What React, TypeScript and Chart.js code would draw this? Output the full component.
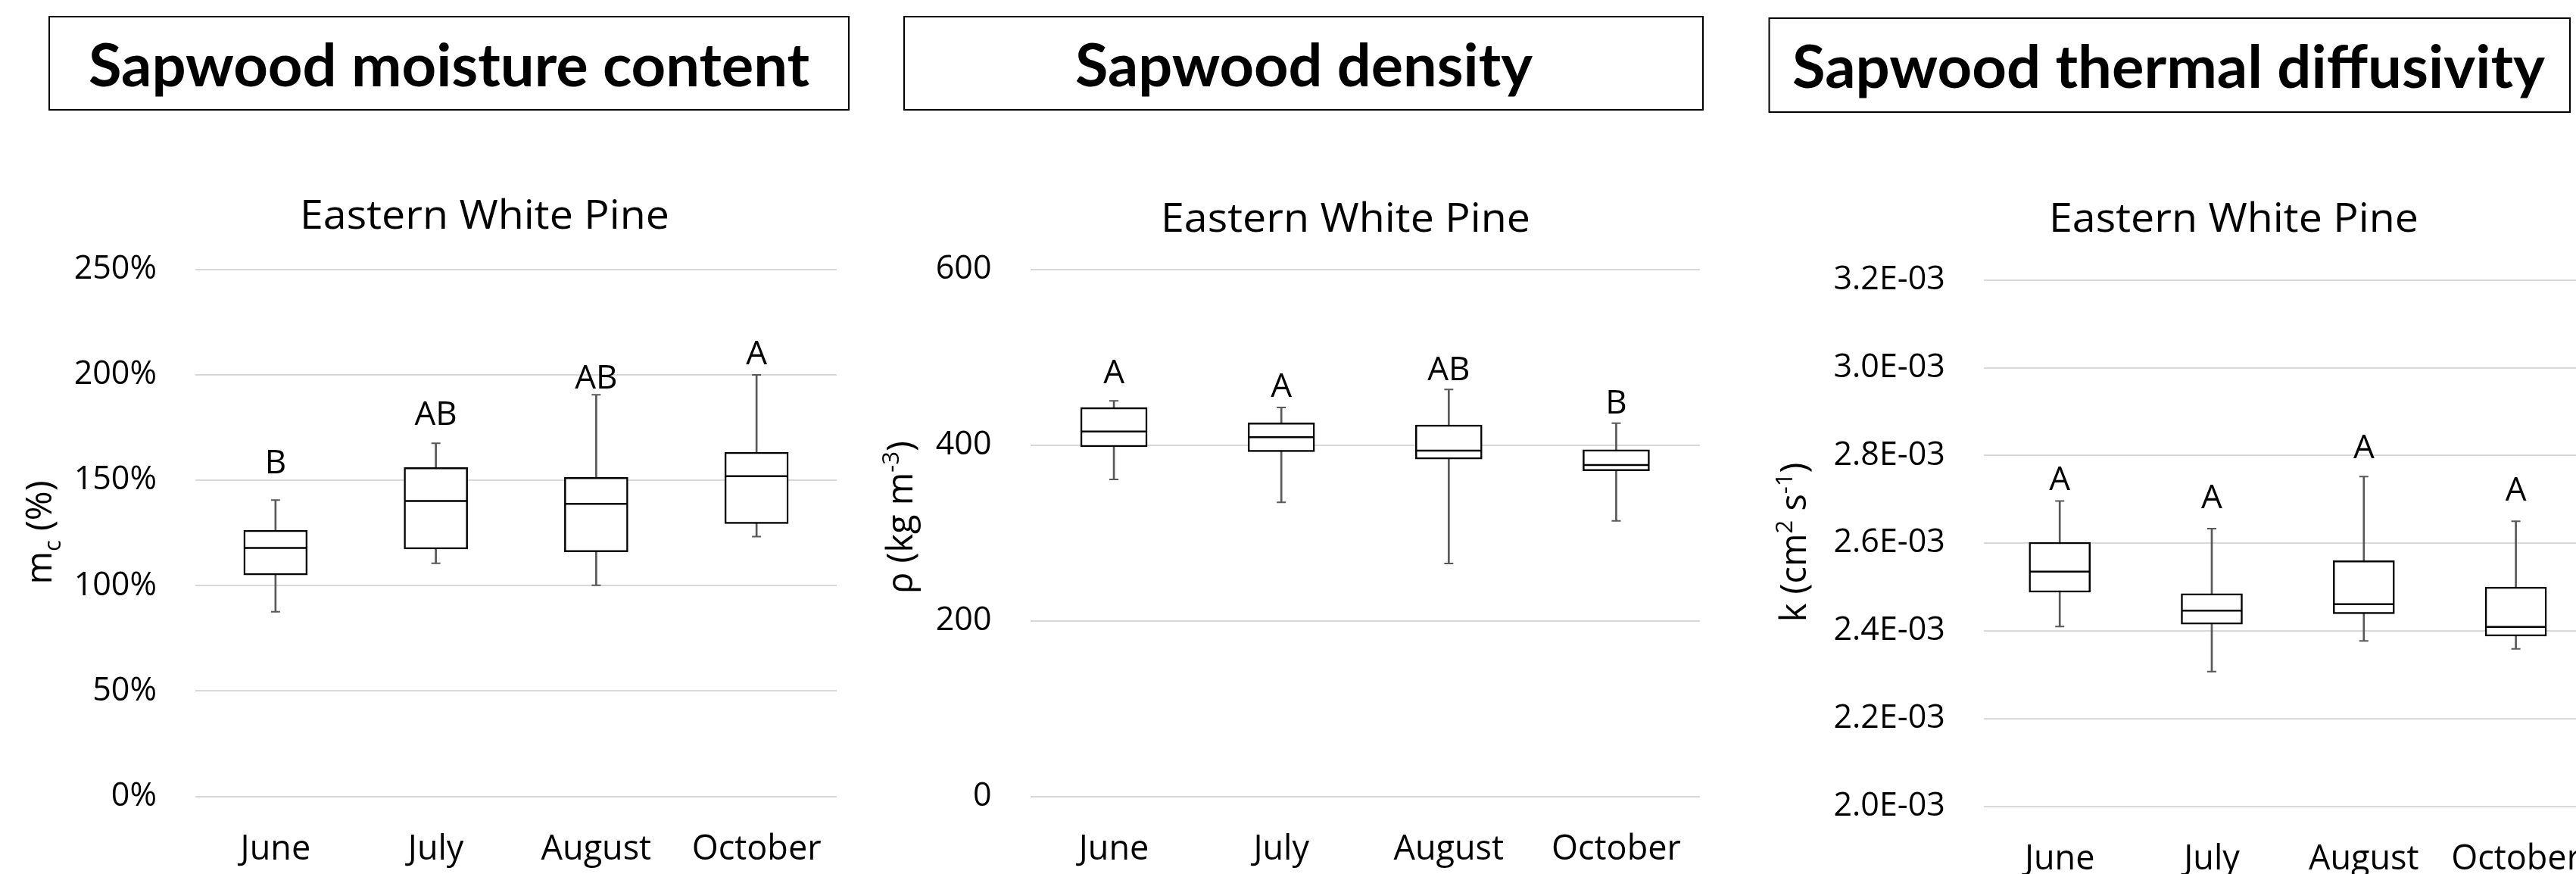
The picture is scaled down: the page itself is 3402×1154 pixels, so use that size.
import React, { useEffect, useRef } from "react";
import { Chart, registerables } from "chart.js";

Chart.register(...registerables);

// ---------------- data ----------------
const months = ["June", "July", "August", "October"];

// Sapwood moisture content (%)
const moistureMin = [87.6, 110.6, 100.2, 123.3];
const moistureQ1 = [105.1, 117.4, 116.0, 129.4];
const moistureMedian = [117.9, 140.2, 138.8, 152.0];
const moistureQ3 = [126.3, 156.1, 151.4, 163.3];
const moistureMax = [140.6, 167.6, 190.6, 200.0];
const moistureLetters = ["B", "AB", "AB", "A"];
const moistureLetterAt = [153.4, 176.2, 193.6, 205.1];
const moistureTicks = [0, 50, 100, 150, 200, 250];

// Sapwood density (kg m-3)
const densityMin = [361.0, 335.0, 265.3, 313.8];
const densityQ1 = [398.1, 392.5, 384.1, 370.9];
const densityMedian = [415.7, 409.1, 393.8, 377.5];
const densityQ3 = [442.9, 425.5, 423.0, 394.8];
const densityMax = [450.5, 442.9, 463.4, 425.0];
const densityLetters = ["A", "A", "AB", "B"];
const densityLetterAt = [471.0, 455.2, 474.3, 436.4];
const densityTicks = [0, 200, 400, 600];

// Sapwood thermal diffusivity (cm2 s-1)
const diffMin = [0.00241, 0.002307, 0.002377, 0.002359];
const diffQ1 = [0.002488, 0.002415, 0.002439, 0.002388];
const diffMedian = [0.002535, 0.002446, 0.002461, 0.002409];
const diffQ3 = [0.002602, 0.002485, 0.00256, 0.0025];
const diffMax = [0.002696, 0.002633, 0.002752, 0.00265];
const diffLetters = ["A", "A", "A", "A"];
const diffLetterAt = [0.0027205, 0.0026793, 0.0027938, 0.0026977];
const diffTicks = [0.002, 0.0022, 0.0024, 0.0026, 0.0028, 0.003, 0.0032];

const subtitle = "Eastern White Pine";

// ---------------- helpers ----------------
const FAM = "'Open Sans', Lato, sans-serif";
const BOLD_FAM = "Lato, 'Open Sans', sans-serif";
const H = 1154;

const pct = (v: number) => `${Math.round(v)}%`;
const plain = (v: number) => `${Math.round(v)}`;
const sci = (v: number) => {
  const e = Math.floor(Math.log10(Math.abs(v)) + 1e-9);
  const m = v / Math.pow(10, e);
  return `${m.toFixed(1)}E${e < 0 ? "-" : "+"}${String(Math.abs(e)).padStart(2, "0")}`;
};

type Part = { t: string; k?: "sub" | "sup" };
type PanelCfg = {
  left: number;
  width: number;
  plotLeft: number;
  plotRight: number;
  plotTop: number;
  plotBottom: number;
  heading: string;
  box: [number, number, number, number];
  headingCx: number;
  headingBaseline: number;
  headingW: number;
  subCx: number;
  subBaseline: number;
  yTitle: Part[];
  yTitleX: number;
  yTitleCy: number;
  barW: number;
  min: number[];
  q1: number[];
  med: number[];
  q3: number[];
  max: number[];
  letters: string[];
  letterAt: number[];
  yMin: number;
  yMax: number;
  ticks: number[];
  fmt: (v: number) => string;
};

function fitText(ctx: CanvasRenderingContext2D, text: string, cx: number, baseline: number, targetW: number, font: string) {
  ctx.font = font;
  const w = ctx.measureText(text).width;
  ctx.save();
  ctx.translate(cx, baseline);
  ctx.scale(targetW / w, 1);
  ctx.textAlign = "center";
  ctx.textBaseline = "alphabetic";
  ctx.fillText(text, 0, 0);
  ctx.restore();
}

function drawRotated(ctx: CanvasRenderingContext2D, parts: Part[], bx: number, cy: number, size: number) {
  const small = Math.round(size * 0.65);
  const widths = parts.map((p) => {
    ctx.font = `${p.k ? small : size}px ${FAM}`;
    return ctx.measureText(p.t).width;
  });
  const total = widths.reduce((a, b) => a + b, 0);
  ctx.save();
  ctx.translate(bx, cy);
  ctx.rotate(-Math.PI / 2);
  ctx.textAlign = "left";
  ctx.textBaseline = "alphabetic";
  let x = -total / 2;
  parts.forEach((p, i) => {
    ctx.font = `${p.k ? small : size}px ${FAM}`;
    const dy = p.k === "sub" ? size * 0.25 : p.k === "sup" ? -size * 0.38 : 0;
    ctx.fillText(p.t, x, dy);
    x += widths[i];
  });
  ctx.restore();
}

// ---------------- panels ----------------
const panels: PanelCfg[] = [
  {
    left: 0,
    width: 1150,
    plotLeft: 258,
    plotRight: 1105,
    plotTop: 356,
    plotBottom: 1051.5,
    heading: "Sapwood moisture content",
    box: [65, 22, 1121, 145],
    headingCx: 593,
    headingBaseline: 114,
    headingW: 952,
    subCx: 640,
    subBaseline: 302,
    yTitle: [{ t: "m" }, { t: "c", k: "sub" }, { t: " (%)" }],
    yTitleX: 68,
    yTitleCy: 703,
    barW: 84,
    min: moistureMin,
    q1: moistureQ1,
    med: moistureMedian,
    q3: moistureQ3,
    max: moistureMax,
    letters: moistureLetters,
    letterAt: moistureLetterAt,
    yMin: 0,
    yMax: 250,
    ticks: moistureTicks,
    fmt: pct,
  },
  {
    left: 1150,
    width: 1150,
    plotLeft: 210.5,
    plotRight: 1095,
    plotTop: 356,
    plotBottom: 1051.5,
    heading: "Sapwood density",
    box: [44, 22, 1099, 145],
    headingCx: 572,
    headingBaseline: 114,
    headingW: 604,
    subCx: 627,
    subBaseline: 306,
    yTitle: [{ t: "ρ (kg m" }, { t: "-3", k: "sup" }, { t: ")" }],
    yTitleX: 55,
    yTitleCy: 683,
    barW: 88,
    min: densityMin,
    q1: densityQ1,
    med: densityMedian,
    q3: densityQ3,
    max: densityMax,
    letters: densityLetters,
    letterAt: densityLetterAt,
    yMin: 0,
    yMax: 600,
    ticks: densityTicks,
    fmt: plain,
  },
  {
    left: 2300,
    width: 1200,
    plotLeft: 319.8,
    plotRight: 1123,
    plotTop: 369.7,
    plotBottom: 1064.6,
    heading: "Sapwood thermal diffusivity",
    box: [36.5, 24, 1094, 148],
    headingCx: 564,
    headingBaseline: 116,
    headingW: 994,
    subCx: 650,
    subBaseline: 306,
    yTitle: [{ t: "k (cm" }, { t: "2", k: "sup" }, { t: " s" }, { t: "-1", k: "sup" }, { t: ")" }],
    yTitleX: 85,
    yTitleCy: 716,
    barW: 81,
    min: diffMin,
    q1: diffQ1,
    med: diffMedian,
    q3: diffQ3,
    max: diffMax,
    letters: diffLetters,
    letterAt: diffLetterAt,
    yMin: 0.002,
    yMax: 0.0032,
    ticks: diffTicks,
    fmt: sci,
  },
];

function BoxPanel({ cfg }: { cfg: PanelCfg }) {
  const ref = useRef<HTMLCanvasElement>(null);

  useEffect(() => {
    const canvas = ref.current;
    if (!canvas) return;

    const overlay = {
      id: "overlay",
      afterDraw(chart: any) {
        const ctx: CanvasRenderingContext2D = chart.ctx;
        ctx.save();
        // heading box
        const [x1, y1, x2, y2] = cfg.box;
        ctx.strokeStyle = "#000";
        ctx.lineWidth = 2;
        ctx.strokeRect(x1, y1, x2 - x1, y2 - y1);
        ctx.fillStyle = "#000";
        fitText(ctx, cfg.heading, cfg.headingCx, cfg.headingBaseline, cfg.headingW, `bold 78px ${BOLD_FAM}`);
        // subtitle
        fitText(ctx, subtitle, cfg.subCx, cfg.subBaseline, 488, `53px ${FAM}`);
        // y axis title
        drawRotated(ctx, cfg.yTitle, cfg.yTitleX, cfg.yTitleCy, 47);
        // significance letters
        const xs = chart.scales.x;
        const ys = chart.scales.y;
        ctx.font = `44px ${FAM}`;
        ctx.textAlign = "center";
        ctx.textBaseline = "alphabetic";
        cfg.letters.forEach((l, i) => {
          ctx.fillText(l, xs.getPixelForValue(i), ys.getPixelForValue(cfg.letterAt[i]));
        });
        ctx.restore();
      },
    };

    const chart = new Chart(canvas, {
      type: "bar",
      data: {
        labels: months,
        datasets: [
          {
            type: "bar",
            label: "whisker",
            data: months.map((_, i) => [cfg.min[i], cfg.max[i]]) as any,
            backgroundColor: "#595959",
            borderWidth: 0,
            barThickness: 2,
            grouped: false,
            order: 4,
          } as any,
          {
            type: "bar",
            label: "box",
            data: months.map((_, i) => [cfg.q1[i], cfg.q3[i]]) as any,
            backgroundColor: "#ffffff",
            borderColor: "#000000",
            borderWidth: 2.5,
            borderSkipped: false,
            barThickness: cfg.barW,
            grouped: false,
            order: 3,
          } as any,
          {
            type: "line",
            label: "median",
            data: cfg.med,
            showLine: false,
            pointStyle: "line",
            pointRadius: cfg.barW / 2 - 1,
            pointHoverRadius: cfg.barW / 2 - 1,
            pointBorderWidth: 2.5,
            pointBorderColor: "#000000",
            borderColor: "#000000",
            order: 2,
          } as any,
          {
            type: "line",
            label: "max cap",
            data: cfg.max,
            showLine: false,
            pointStyle: "line",
            pointRadius: 6,
            pointHoverRadius: 6,
            pointBorderWidth: 2,
            pointBorderColor: "#595959",
            borderColor: "#595959",
            order: 1,
          } as any,
          {
            type: "line",
            label: "min cap",
            data: cfg.min,
            showLine: false,
            pointStyle: "line",
            pointRadius: 6,
            pointHoverRadius: 6,
            pointBorderWidth: 2,
            pointBorderColor: "#595959",
            borderColor: "#595959",
            order: 1,
          } as any,
        ],
      },
      options: {
        responsive: false,
        animation: false,
        events: [],
        layout: {
          padding: { left: 0, top: cfg.plotTop, right: cfg.width - cfg.plotRight, bottom: 0 },
        },
        plugins: {
          legend: { display: false },
          tooltip: { enabled: false },
          title: { display: false },
        },
        scales: {
          x: {
            grid: { display: false, drawTicks: false },
            border: { display: false },
            ticks: {
              color: "#000",
              font: { family: FAM, size: 45 },
              padding: 44,
              maxRotation: 0,
              autoSkip: false,
            },
            afterFit: (s: any) => {
              s.height = H - cfg.plotBottom;
            },
          },
          y: {
            min: cfg.yMin,
            max: cfg.yMax,
            afterBuildTicks: (s: any) => {
              s.ticks = cfg.ticks.map((v) => ({ value: v }));
            },
            grid: { color: "#d9d9d9", lineWidth: 2, drawTicks: false },
            border: { display: false },
            ticks: {
              color: "#000",
              font: { family: FAM, size: 43 },
              padding: 51,
              callback: (v: any) => cfg.fmt(Number(v)),
            },
            afterFit: (s: any) => {
              s.width = cfg.plotLeft;
            },
          },
        },
      } as any,
      plugins: [overlay],
    });

    return () => chart.destroy();
  }, [cfg]);

  return (
    <canvas
      ref={ref}
      width={cfg.width}
      height={H}
      style={{ position: "absolute", left: cfg.left, top: 0, width: cfg.width, height: H }}
    />
  );
}

export default function App() {
  return (
    <div
      style={{
        position: "fixed",
        left: 0,
        top: 0,
        width: 3402,
        height: H,
        overflow: "hidden",
        background: "#ffffff",
      }}
    >
      {panels.map((p, i) => (
        <BoxPanel key={i} cfg={p} />
      ))}
    </div>
  );
}
